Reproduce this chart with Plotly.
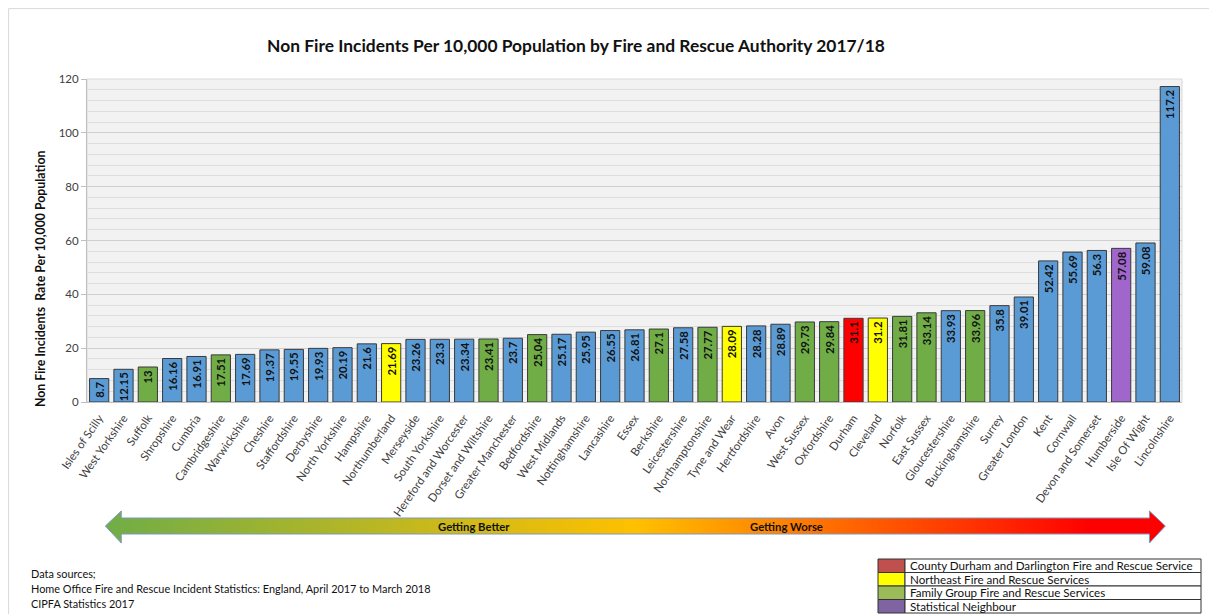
import plotly.graph_objects as go

# ---------------- data ----------------
authorities = [
    "Isles of Scilly", "West Yorkshire", "Suffolk", "Shropshire", "Cumbria",
    "Cambridgeshire", "Warwickshire", "Cheshire", "Staffordshire", "Derbyshire",
    "North Yorkshire", "Hampshire", "Northumberland", "Merseyside", "South Yorkshire",
    "Hereford and Worcester", "Dorset and Wiltshire", "Greater Manchester", "Bedfordshire",
    "West Midlands", "Nottinghamshire", "Lancashire", "Essex", "Berkshire",
    "Leicestershire", "Northamptonshire", "Tyne and Wear", "Hertfordshire", "Avon",
    "West Sussex", "Oxfordshire", "Durham", "Cleveland", "Norfolk", "East Sussex",
    "Gloucestershire", "Buckinghamshire", "Surrey", "Greater London", "Kent",
    "Cornwall", "Devon and Somerset", "Humberside", "Isle Of Wight", "Lincolnshire",
]
rates = [
    8.7, 12.15, 13, 16.16, 16.91, 17.51, 17.69, 19.37, 19.55, 19.93,
    20.19, 21.6, 21.69, 23.26, 23.3, 23.34, 23.41, 23.7, 25.04, 25.17,
    25.95, 26.55, 26.81, 27.1, 27.58, 27.77, 28.09, 28.28, 28.89, 29.73,
    29.84, 31.1, 31.2, 31.81, 33.14, 33.93, 33.96, 35.8, 39.01, 52.42,
    55.69, 56.3, 57.08, 59.08, 117.2,
]
groups = [
    "o", "o", "f", "o", "o", "f", "o", "o", "o", "o",
    "o", "o", "n", "o", "o", "o", "f", "o", "f", "o",
    "o", "o", "o", "f", "o", "f", "n", "o", "o", "f",
    "f", "d", "n", "f", "f", "o", "f", "o", "o", "o",
    "o", "o", "s", "o", "o",
]
y_ticks = [0, 20, 40, 60, 80, 100, 120]
legend_labels = [
    "County Durham and Darlington Fire and Rescue Service",
    "Northeast Fire and Rescue Services",
    "Family Group Fire and Rescue Services",
    "Statistical Neighbour",
]
source_lines = [
    "Data sources;",
    "Home Office Fire and Rescue Incident Statistics: England, April 2017 to March 2018",
    "CIPFA Statistics 2017",
]

# ---------------- styles ----------------
bar_colors = {"o": "#5B9BD5", "f": "#70AD47", "n": "#FFFF00", "d": "#FF0000", "s": "#A066CC"}
legend_colors = ["#C0504D", "#FFFF00", "#9BBB59", "#8064A2"]
OFF = 8                      # page body margin of the browser
W, H = 1217 - OFF, 614 - OFF  # figure size
FONT = "Lato"


def fx(px):
    return (px - OFF) / W


def fy(py):
    return 1 - (py - OFF) / H


PL, PR, PT, PB = 87, 1182, 79, 402

fig = go.Figure()

fig.add_trace(go.Bar(
    x=authorities, y=rates,
    marker=dict(color=[bar_colors[g] for g in groups], line=dict(color="#3A3A3A", width=1)),
    text=[f"{v:g}" for v in rates],
    textposition="inside", insidetextanchor="end", textangle=-90,
    constraintext="none",
    insidetextfont=dict(family=FONT, size=11.3, color="#111111", weight="bold"),
    hoverinfo="x+y", showlegend=False,
))

# Arrow (gradient) on an overlay pixel-space axis pair (screen pixel coords)
ax = [98, 114, 114, 1149, 1149, 1165, 1149, 1149, 114, 114, 98]
ay = [526, 511, 518, 518, 511, 526, 543, 534, 534, 543, 526]
fig.add_trace(go.Scatter(
    x=ax, y=ay, xaxis="x2", yaxis="y2", mode="lines", fill="toself",
    fillgradient=dict(type="horizontal",
                      colorscale=[[0, "#70AD47"], [0.5, "#FFC000"], [0.93, "#FF0000"], [1, "#FF0000"]]),
    line=dict(color="#7C98C4", width=1), hoverinfo="skip", showlegend=False,
))

shapes = []
# outer frame
shapes.append(dict(type="rect", xref="paper", yref="paper", x0=0.0005, x1=1.2, y0=-0.2, y1=0.999,
                   line=dict(color="#D9D9D9", width=1), fillcolor="rgba(0,0,0,0)", layer="below"))
# plot area background
shapes.append(dict(type="rect", xref="paper", yref="paper", x0=fx(PL), x1=fx(PR), y0=fy(PB), y1=fy(PT),
                   line=dict(color="#D9D9D9", width=1), fillcolor="#F2F2F2", layer="below"))

annotations = []
annotations.append(dict(text="Getting Better", x=fx(474), y=fy(526), xref="paper", yref="paper",
                        showarrow=False, font=dict(family=FONT, size=11.3, color="#111111", weight="bold"),
                        xanchor="center", yanchor="middle"))
annotations.append(dict(text="Getting Worse", x=fx(786), y=fy(526), xref="paper", yref="paper",
                        showarrow=False, font=dict(family=FONT, size=11.3, color="#111111", weight="bold"),
                        xanchor="center", yanchor="middle"))
# y-axis title
annotations.append(dict(text="Non Fire Incidents  Rate Per 10,000 Population", x=fx(40), y=fy(279),
                        xref="paper", yref="paper", showarrow=False, textangle=-90,
                        font=dict(family=FONT, size=12.3, color="#111111", weight="bold"),
                        xanchor="center", yanchor="middle"))
# data sources
for i, line in enumerate(source_lines):
    annotations.append(dict(text=line, x=fx(29), y=fy(573 + 15 * i), xref="paper", yref="paper",
                            showarrow=False, font=dict(family=FONT, size=10.9, color="#111111"),
                            xanchor="left", yanchor="middle"))

# legend table
TL, TS, TR, TT, RH = 878, 905, 1201, 559, 13.5
for i, (lab, col) in enumerate(zip(legend_labels, legend_colors)):
    top = TT + RH * i
    shapes.append(dict(type="rect", xref="paper", yref="paper", x0=fx(TL), x1=fx(TS),
                       y0=fy(top + RH), y1=fy(top), fillcolor=col, line=dict(color="#333333", width=1)))
    shapes.append(dict(type="rect", xref="paper", yref="paper", x0=fx(TS), x1=fx(TR),
                       y0=fy(top + RH), y1=fy(top), fillcolor="white", line=dict(color="#333333", width=1)))
    annotations.append(dict(text=lab, x=fx(TS + 3), y=fy(top + RH / 2), xref="paper", yref="paper",
                            showarrow=False, font=dict(family=FONT, size=11.6, color="#111111"),
                            xanchor="left", yanchor="middle"))

fig.update_layout(
    template="none",
    width=W, height=H,
    margin=dict(l=0, r=0, t=0, b=0),
    paper_bgcolor="white",
    plot_bgcolor="rgba(0,0,0,0)",
    title=dict(text="<b>Non Fire Incidents Per 10,000 Population by Fire and Rescue Authority 2017/18</b>",
               x=fx(576), y=fy(46), xanchor="center", yanchor="middle",
               font=dict(family=FONT, size=17.4, color="#111111")),
    bargap=0.21,
    showlegend=False,
    xaxis=dict(domain=[fx(PL), fx(PR)], type="category", tickangle=-55,
               tickfont=dict(family=FONT, size=11.4, color="#404040"),
               ticklabelstandoff=4,
               showline=True, linecolor="#BFBFBF", linewidth=1, ticks="", showgrid=False,
               automargin=False, anchor="y"),
    yaxis=dict(domain=[fy(PB), fy(PT)], range=[0, 120], tickvals=y_ticks,
               tickfont=dict(family=FONT, size=11.5, color="#404040"),
               showline=True, linecolor="#BFBFBF", linewidth=1, ticks="outside", ticklen=5,
               tickcolor="#BFBFBF", showgrid=True, gridcolor="#CFCFCF", gridwidth=1,
               minor=dict(dtick=4, showgrid=True, gridcolor="#DEDEDE", gridwidth=1),
               zeroline=False, automargin=False, anchor="x"),
    xaxis2=dict(domain=[0, 1], range=[0, W + OFF], visible=False, anchor="y2", showgrid=False),
    yaxis2=dict(domain=[0, 1], range=[H + OFF, OFF], visible=False, anchor="x2", showgrid=False),
    shapes=shapes,
    annotations=annotations,
)

fig.write_html("out.html")
